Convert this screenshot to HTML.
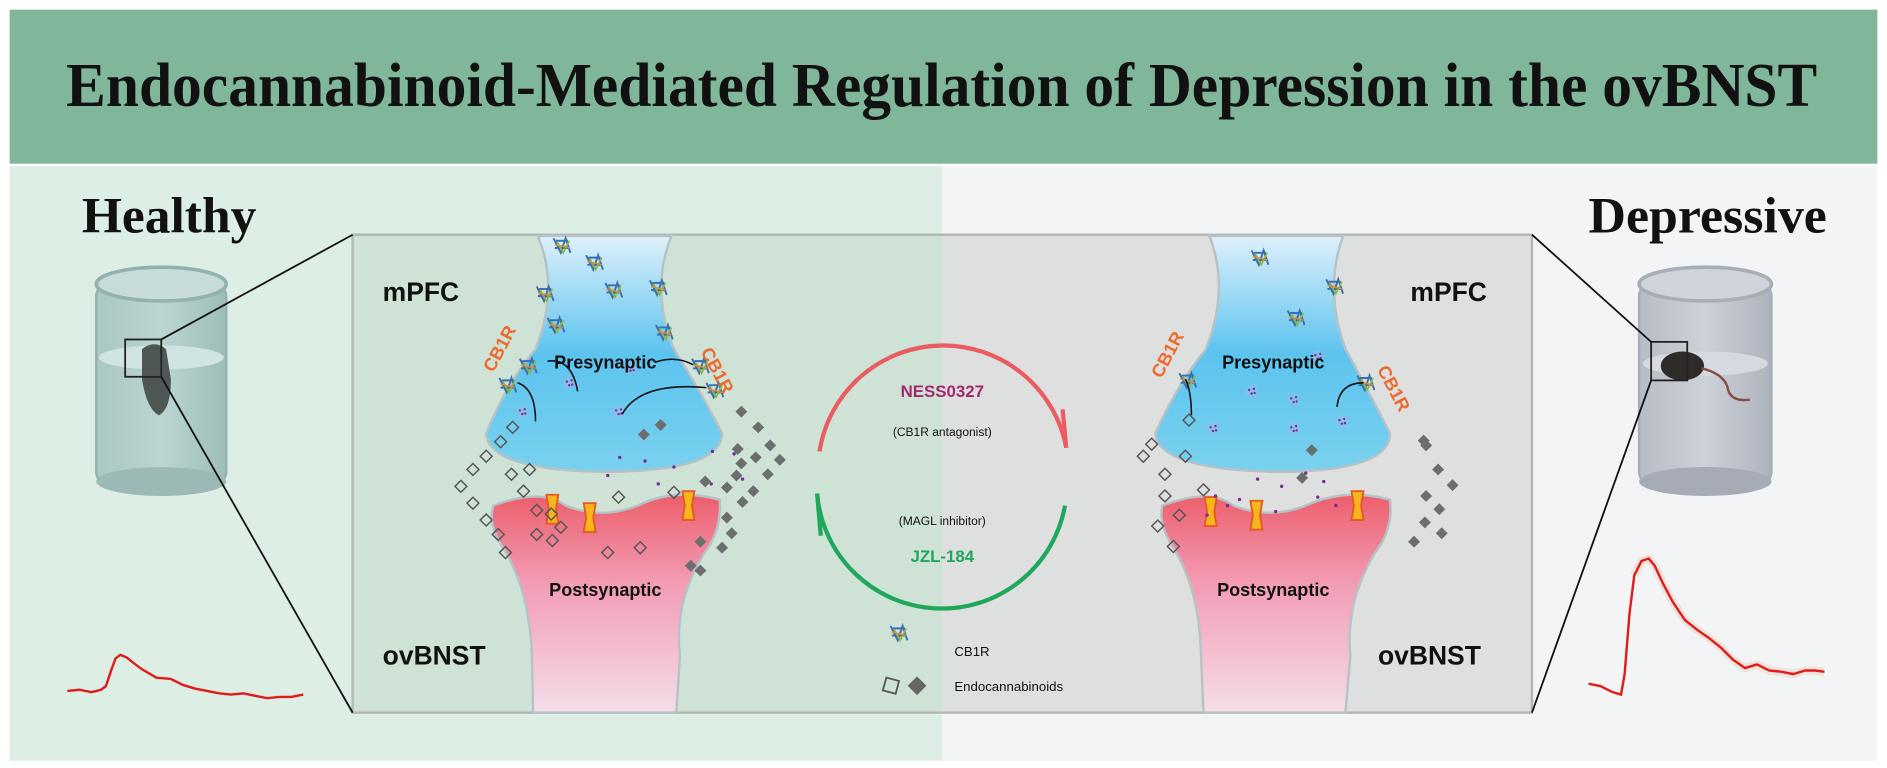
<!DOCTYPE html>
<html><head><meta charset="utf-8"><style>
html,body{margin:0;padding:0;background:#fff;}
svg{display:block;}
text{font-family:"Liberation Sans",sans-serif;}
.serif{font-family:"Liberation Serif",serif;font-weight:bold;}
</style></head><body>
<svg width="1887" height="768" viewBox="0 0 1568 638" preserveAspectRatio="none" xmlns="http://www.w3.org/2000/svg">
<defs>
<linearGradient id="pre" x1="0" y1="0" x2="0" y2="1"><stop offset="0" stop-color="#dff0fb"/><stop offset="0.5" stop-color="#5cc3ef"/><stop offset="1" stop-color="#7ad1ee"/></linearGradient>
<linearGradient id="post" x1="0" y1="0" x2="0" y2="1"><stop offset="0" stop-color="#ec5f6c"/><stop offset="0.4" stop-color="#f29bb4"/><stop offset="1" stop-color="#f5dde8"/></linearGradient>
<linearGradient id="bk1" x1="0" y1="0" x2="1" y2="0"><stop offset="0" stop-color="#a9c7c3"/><stop offset="0.5" stop-color="#bcd5d2"/><stop offset="1" stop-color="#9dbdb9"/></linearGradient>
<linearGradient id="bk2" x1="0" y1="0" x2="1" y2="0"><stop offset="0" stop-color="#b7bcc5"/><stop offset="0.5" stop-color="#cdd1d8"/><stop offset="1" stop-color="#adb3bc"/></linearGradient>
<g id="rec"><path d="M0 0 l6 12 l4 -12 l4 12 M2 2 l10 0 M1 8 l12 0" stroke="#3a6fb0" stroke-width="1.6" fill="none"/><path d="M3 3 l5 9 l5 -10" stroke="#8ab83c" stroke-width="1.4" fill="none"/><path d="M1 5 l12 3" stroke="#e08a3a" stroke-width="1.2"/></g>
<g id="ves"><circle r="5" fill="#9fb7e8" opacity="0.5"/><circle cx="-2" cy="-1" r="1" fill="#7a2a9a"/><circle cx="2" cy="-2" r="1" fill="#7a2a9a"/><circle cx="0" cy="2" r="1" fill="#7a2a9a"/><circle cx="2.5" cy="1.5" r="1" fill="#7a2a9a"/></g>
</defs>
<rect width="1568" height="638" fill="#fff"/>
<rect x="8" y="8" width="1552" height="128" fill="#80b79a"/>
<text x="55" y="88" class="serif" font-size="52" fill="#111" textLength="1455" lengthAdjust="spacingAndGlyphs">Endocannabinoid-Mediated Regulation of Depression in the ovBNST</text>
<rect x="8" y="138" width="775" height="494" fill="#ddeee5"/>
<rect x="783" y="138" width="777" height="494" fill="#f2f4f5"/>
<text x="68" y="193" class="serif" font-size="42" fill="#111" textLength="145" lengthAdjust="spacingAndGlyphs">Healthy</text>
<text x="1320" y="193" class="serif" font-size="42" fill="#111" textLength="198" lengthAdjust="spacingAndGlyphs">Depressive</text>

<rect x="293" y="195" width="490" height="397" fill="#cfe2d6"/>
<rect x="783" y="195" width="490" height="397" fill="#dedfdf"/>
<rect x="293" y="195" width="980" height="397" fill="none" stroke="#b2b8b4" stroke-width="2"/>

<g>
<rect x="80" y="236" width="108" height="166" rx="10" fill="url(#bk1)" stroke="#93b2ae" stroke-width="2"/>
<ellipse cx="134" cy="236" rx="54" ry="14" fill="#c7dcd9" stroke="#93b2ae" stroke-width="3"/>
<ellipse cx="134" cy="297" rx="52" ry="10" fill="#d0e4e1"/>
<ellipse cx="134" cy="400" rx="54" ry="12" fill="#9bb9b6"/>
<path d="M118 290 q10 -8 20 0 l4 25 q0 25 -10 30 q-10 -5 -14 -30z" fill="#4f5755"/>
<rect x="104" y="282" width="30" height="31" fill="none" stroke="#222" stroke-width="1.5"/>
</g>
<g>
<rect x="1362" y="236" width="110" height="166" rx="10" fill="url(#bk2)" stroke="#a8adb6" stroke-width="2"/>
<ellipse cx="1417" cy="236" rx="55" ry="14" fill="#cfd3da" stroke="#a8adb6" stroke-width="3"/>
<ellipse cx="1417" cy="302" rx="52" ry="10" fill="#d6dae0"/>
<ellipse cx="1417" cy="400" rx="55" ry="12" fill="#a6acb6"/>
<ellipse cx="1398" cy="304" rx="18" ry="12" fill="#2f2b29"/>
<path d="M1414 306 q20 5 22 18 q3 10 18 8" stroke="#8a4b44" stroke-width="2" fill="none"/>
<rect x="1372" y="284" width="30" height="32" fill="none" stroke="#222" stroke-width="1.5"/>
</g>
<g stroke="#111" stroke-width="1.5">
<line x1="134" y1="282" x2="293" y2="195"/><line x1="134" y1="313" x2="293" y2="592"/>
<line x1="1372" y1="284" x2="1273" y2="195"/><line x1="1372" y1="316" x2="1273" y2="592"/>
</g>

<polyline fill="none" stroke="#e01b1b" stroke-width="2" points="56,574 66,573 76,575 84,573 88,570 92,558 96,547 100,544 105,546 110,550 118,556 130,563 142,564 152,569 162,572 172,574 182,576 192,577 202,576 212,578 222,580 232,579 242,579 252,577"/>
<polyline fill="none" stroke="#efe3dc" stroke-width="7" stroke-linejoin="round" points="1358,478 1364,466 1370,464 1375,470 1382,485 1390,500 1400,515 1410,523 1420,530 1430,538 1440,548 1450,555 1460,552 1470,557 1480,558 1490,560 1500,557 1508,557 1516,558"/>
<polyline fill="none" stroke="#e01b1b" stroke-width="2" points="1320,568 1330,570 1340,575 1347,577 1350,560 1354,510 1358,478 1364,466 1370,464 1375,470 1382,485 1390,500 1400,515 1410,523 1420,530 1430,538 1440,548 1450,555 1460,552 1470,557 1480,558 1490,560 1500,557 1508,557 1516,558"/>

<g>
<path d="M447 196 L558 196 Q540 240 560 290 Q585 330 600 360 Q600 392 500 392 Q405 390 404 360 Q420 320 445 290 Q465 240 447 196Z" fill="url(#pre)" stroke="#b6c2c6" stroke-width="2"/>
<path d="M410 420 Q450 405 470 420 Q500 432 530 420 Q560 405 598 415 Q600 440 585 460 Q560 500 565 545 L562 592 L443 592 L442 545 Q440 490 418 455 Q405 435 410 420Z" fill="url(#post)" stroke="#b6c2c6" stroke-width="2"/>
</g>
<g>
<path d="M1005 196 L1116 196 Q1100 240 1118 290 Q1140 330 1155 360 Q1155 392 1060 392 Q962 390 960 360 Q978 320 1002 290 Q1022 240 1005 196Z" fill="url(#pre)" stroke="#b6c2c6" stroke-width="2"/>
<path d="M966 420 Q1005 405 1025 420 Q1055 432 1085 420 Q1118 405 1155 415 Q1158 440 1142 460 Q1118 500 1122 545 L1118 592 L1000 592 L998 545 Q997 490 975 455 Q962 435 966 420Z" fill="url(#post)" stroke="#b6c2c6" stroke-width="2"/>
</g>
<g fill="#f7b51e" stroke="#e5571e" stroke-width="1.5">
<path d="M534 497 h10 l-2 12 l2 12 h-10 l2 -12z" transform="translate(-80,-86)"/>
<path d="M534 497 h10 l-2 12 l2 12 h-10 l2 -12z" transform="translate(-49,-79)"/>
<path d="M534 497 h10 l-2 12 l2 12 h-10 l2 -12z" transform="translate(33,-89)"/>
<path d="M534 497 h10 l-2 12 l2 12 h-10 l2 -12z" transform="translate(467,-84)"/>
<path d="M534 497 h10 l-2 12 l2 12 h-10 l2 -12z" transform="translate(505,-81)"/>
<path d="M534 497 h10 l-2 12 l2 12 h-10 l2 -12z" transform="translate(589,-89)"/>
</g>
<g>
<use href="#rec" x="460" y="198"/><use href="#rec" x="487" y="212"/><use href="#rec" x="446" y="238"/><use href="#rec" x="503" y="235"/><use href="#rec" x="540" y="233"/>
<use href="#rec" x="455" y="264"/><use href="#rec" x="545" y="270"/><use href="#rec" x="432" y="298"/><use href="#rec" x="415" y="314"/><use href="#rec" x="575" y="298"/><use href="#rec" x="587" y="318"/>
<use href="#rec" x="1040" y="208"/><use href="#rec" x="1102" y="232"/><use href="#rec" x="1070" y="258"/><use href="#rec" x="980" y="310"/><use href="#rec" x="1128" y="312"/>
<use href="#rec" x="740" y="520"/>
</g>
<g>
<use href="#ves" x="473" y="318"/><use href="#ves" x="524" y="306"/><use href="#ves" x="434" y="342"/><use href="#ves" x="514" y="342"/>
<use href="#ves" x="1040" y="325"/><use href="#ves" x="1075" y="332"/><use href="#ves" x="1095" y="296"/><use href="#ves" x="1008" y="356"/><use href="#ves" x="1075" y="356"/><use href="#ves" x="1115" y="350"/>
</g>
<g stroke="#111" stroke-width="1.3" fill="none">
<path d="M455 300 q20 -3 25 25"/><path d="M430 318 q15 5 15 32"/><path d="M576 303 q-15 -8 -32 -2"/><path d="M587 322 q-55 -5 -70 22"/>
<path d="M985 315 q5 10 5 30"/><path d="M1133 318 q-20 0 -22 20"/>
</g>
<g fill="#ee6a2c" font-weight="bold" font-size="15">
<text transform="translate(410,310) rotate(-62)">CB1R</text>
<text transform="translate(582,292) rotate(62)">CB1R</text>
<text transform="translate(965,315) rotate(-62)">CB1R</text>
<text transform="translate(1144,307) rotate(62)">CB1R</text>
</g>
<g id="dia"></g>
<g fill="#111" font-weight="bold">
<text x="318" y="250" font-size="22">mPFC</text>
<text x="1172" y="250" font-size="22">mPFC</text>
<text x="318" y="552" font-size="22">ovBNST</text>
<text x="1145" y="552" font-size="22">ovBNST</text>
<text x="503" y="306" font-size="15" text-anchor="middle">Presynaptic</text>
<text x="503" y="495" font-size="15" text-anchor="middle">Postsynaptic</text>
<text x="1058" y="306" font-size="15" text-anchor="middle">Presynaptic</text>
<text x="1058" y="495" font-size="15" text-anchor="middle">Postsynaptic</text>
</g>
<path d="M681 375 A104 104 0 0 1 886 372" fill="none" stroke="#eb5b62" stroke-width="3.5"/>
<path d="M886 372 L883 340" stroke="#eb5b62" stroke-width="3.5"/>
<path d="M885 420 A104 104 0 0 1 679 410" fill="none" stroke="#1fa85c" stroke-width="3.5"/>
<path d="M679 410 L682 445" stroke="#1fa85c" stroke-width="3.5"/>
<text x="783" y="330" text-anchor="middle" font-size="14" font-weight="bold" fill="#a3286c">NESS0327</text>
<text x="783" y="362" text-anchor="middle" font-size="10" fill="#111">(CB1R antagonist)</text>
<text x="783" y="436" text-anchor="middle" font-size="10" fill="#111">(MAGL inhibitor)</text>
<text x="783" y="467" text-anchor="middle" font-size="14" font-weight="bold" fill="#1fa85c">JZL-184</text>
<text x="793" y="545" font-size="11" fill="#111">CB1R</text>
<text x="793" y="574" font-size="11" fill="#111">Endocannabinoids</text>
<rect x="735" y="564" width="11" height="11" fill="none" stroke="#555" stroke-width="1.5" transform="rotate(15 740 569)"/>
<rect x="757" y="564" width="11" height="11" fill="#666" transform="rotate(45 762 569)"/>
</svg>
<script>
(function(){
var g=document.getElementById('dia'),ns='http://www.w3.org/2000/svg';
function d(x,y,fill){var r=document.createElementNS(ns,'rect');r.setAttribute('x',x-3.5);r.setAttribute('y',y-3.5);r.setAttribute('width',7);r.setAttribute('height',7);r.setAttribute('transform','rotate(45 '+x+' '+y+')');if(fill){r.setAttribute('fill','#6b6e6c');}else{r.setAttribute('fill','none');r.setAttribute('stroke','#555');r.setAttribute('stroke-width','1.2');}g.appendChild(r);}
var open=[[426,355],[416,367],[404,379],[393,390],[383,404],[393,418],[404,432],[414,444],[420,459],[446,444],[446,424],[435,408],[425,394],[440,390],[458,427],[466,438],[459,449],[514,413],[560,409],[532,455],[505,459],[988,349],[985,379],[968,394],[968,412],[980,428],[962,437],[975,454],[957,369],[950,379],[1000,407]];
var fill=[[616,342],[630,355],[640,370],[648,382],[628,380],[612,395],[604,405],[617,417],[604,430],[608,443],[600,455],[582,450],[574,470],[582,474],[616,385],[638,394],[626,408],[586,400],[613,373],[1183,366],[1195,390],[1207,403],[1185,412],[1196,423],[1184,434],[1198,443],[1175,450],[1185,370],[1090,374],[1082,397]];
var k;for(k=0;k<open.length;k++)d(open[k][0],open[k][1],false);
for(k=0;k<fill.length;k++)d(fill[k][0],fill[k][1],true);
d(535,361,true);d(549,353,true);
var dots=[[515,380],[536,383],[547,402],[592,375],[610,377],[591,402],[617,398],[505,395],[560,388],[1010,412],[1045,398],[1065,404],[1085,393],[1100,400],[1020,420],[1110,420],[1060,425],[1030,415],[1095,413],[1003,428]];
for(k=0;k<dots.length;k++){var c=document.createElementNS(ns,'circle');c.setAttribute('cx',dots[k][0]);c.setAttribute('cy',dots[k][1]);c.setAttribute('r',1.4);c.setAttribute('fill','#7a2a9a');g.appendChild(c);}
})();
</script>
</body></html>
